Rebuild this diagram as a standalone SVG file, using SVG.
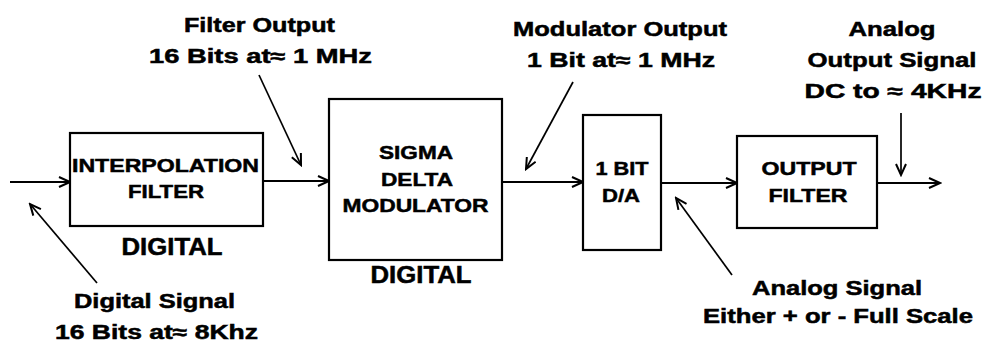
<svg xmlns="http://www.w3.org/2000/svg" width="984" height="344" viewBox="0 0 984 344">
<defs>
<style>
.box{fill:#fff;stroke:#000;stroke-width:2.2}
.ln{fill:none;stroke:#000;stroke-width:2;marker-end:url(#ah)}
.thin{fill:none;stroke:#000;stroke-width:1.7;marker-end:url(#ah)}
text{font-family:"Liberation Sans",Arial,sans-serif;font-weight:bold;fill:#000;stroke:#000;stroke-width:0.5;text-anchor:middle}
.b{font-size:19px}
.l{font-size:20px}
.d{font-size:23px}
</style>
<marker id="ah" markerUnits="userSpaceOnUse" markerWidth="14" markerHeight="14" refX="12" refY="6" orient="auto">
<path d="M1,1 L12,6 L1,11" fill="none" stroke="#000" stroke-width="2"/>
</marker>
</defs>
<rect width="984" height="344" fill="#fff"/>
<g id="connectors">
<line class="ln" x1="10" y1="182" x2="70" y2="182"/>
<line class="ln" x1="263" y1="181" x2="329" y2="181"/>
<line class="ln" x1="502" y1="182" x2="583" y2="182"/>
<line class="ln" x1="661" y1="183" x2="737" y2="183"/>
<line class="ln" x1="877" y1="183" x2="940" y2="183"/>
<line class="thin" x1="97" y1="283" x2="30" y2="204"/>
<line class="thin" x1="259" y1="75" x2="301" y2="165"/>
<line class="thin" x1="573" y1="82" x2="526" y2="169"/>
<line class="thin" x1="732" y1="275" x2="676" y2="198"/>
<line class="thin" x1="901" y1="113" x2="901" y2="175"/>
</g>
<g id="interpolation-filter">
<rect class="box" x="70" y="133" width="193" height="93"/>
<text class="b" x="165.5" y="172" textLength="187" lengthAdjust="spacingAndGlyphs">INTERPOLATION</text>
<text class="b" x="166" y="198" textLength="76" lengthAdjust="spacingAndGlyphs">FILTER</text>
<text class="d" x="172" y="255" textLength="101" lengthAdjust="spacingAndGlyphs">DIGITAL</text>
</g>
<g id="sigma-delta">
<rect class="box" x="329" y="99" width="173" height="161"/>
<text class="b" x="416" y="159" textLength="74" lengthAdjust="spacingAndGlyphs">SIGMA</text>
<text class="b" x="417" y="186" textLength="72" lengthAdjust="spacingAndGlyphs">DELTA</text>
<text class="b" x="415.5" y="212" textLength="146" lengthAdjust="spacingAndGlyphs">MODULATOR</text>
<text class="d" x="421" y="283" textLength="101" lengthAdjust="spacingAndGlyphs">DIGITAL</text>
</g>
<g id="one-bit-da">
<rect class="box" x="583" y="115" width="78" height="135"/>
<text class="b" x="622" y="175" textLength="53" lengthAdjust="spacingAndGlyphs">1 BIT</text>
<text class="b" x="621" y="202" textLength="38" lengthAdjust="spacingAndGlyphs">D/A</text>
</g>
<g id="output-filter">
<rect class="box" x="737" y="136" width="140" height="92"/>
<text class="b" x="809" y="175" textLength="95" lengthAdjust="spacingAndGlyphs">OUTPUT</text>
<text class="b" x="808" y="202" textLength="79" lengthAdjust="spacingAndGlyphs">FILTER</text>
</g>
<g id="label-digital-signal">
<text class="l" x="154.5" y="308" textLength="161" lengthAdjust="spacingAndGlyphs">Digital Signal</text>
<text class="l" x="156.5" y="339" textLength="203" lengthAdjust="spacingAndGlyphs">16 Bits at≈ 8Khz</text>
</g>
<g id="label-filter-output">
<text class="l" x="259.5" y="32" textLength="151" lengthAdjust="spacingAndGlyphs">Filter Output</text>
<text class="l" x="260.5" y="63" textLength="223" lengthAdjust="spacingAndGlyphs">16 Bits at≈  1 MHz</text>
</g>
<g id="label-modulator-output">
<text class="l" x="620" y="36" textLength="214" lengthAdjust="spacingAndGlyphs">Modulator Output</text>
<text class="l" x="621" y="67" textLength="188" lengthAdjust="spacingAndGlyphs">1 Bit at≈ 1 MHz</text>
</g>
<g id="label-analog-output">
<text class="l" x="892" y="36" textLength="87" lengthAdjust="spacingAndGlyphs">Analog</text>
<text class="l" x="892" y="67" textLength="169" lengthAdjust="spacingAndGlyphs">Output Signal</text>
<text class="l" x="893" y="98" textLength="177" lengthAdjust="spacingAndGlyphs">DC to ≈  4KHz</text>
</g>
<g id="label-analog-signal">
<text class="l" x="837" y="295" textLength="170" lengthAdjust="spacingAndGlyphs">Analog Signal</text>
<text class="l" x="838" y="323" textLength="270" lengthAdjust="spacingAndGlyphs">Either + or - Full Scale</text>
</g>
</svg>
